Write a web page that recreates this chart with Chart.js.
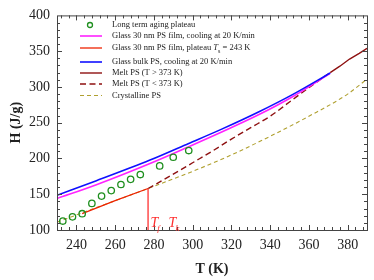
<!DOCTYPE html>
<html>
<head>
<meta charset="utf-8">
<script src="https://cdn.jsdelivr.net/npm/chart.js@4.4.1/dist/chart.umd.min.js"></script>
<style>
  html, body { margin: 0; padding: 0; background: #fff; }
</style>
</head>
<body>
<canvas id="chart" width="374" height="280"></canvas>
<script>
const xTicks = [240, 260, 280, 300, 320, 340, 360, 380];
const yTicks = [100, 150, 200, 250, 300, 350, 400];

const agingT = [233, 238, 243, 248, 253, 258, 263, 268, 273, 283, 290, 298];
const agingH = [112.5, 118.4, 122.8, 137.2, 147.4, 155.1, 163.6, 170.8, 177.5, 189.6, 201.7, 211.1];

const filmT = [230, 250, 278, 298, 315, 334, 352, 371];
const filmH = [144, 163, 193, 216.5, 237, 261, 287, 319];

const plateauT = [243, 260, 277];
const plateauH = [123, 141, 158];

const bulkT = [230, 250, 278, 298, 315, 334, 352, 371];
const bulkH = [148.5, 168.5, 197.7, 221, 241, 265, 290, 319.5];

const meltHighT = [371, 376, 381, 386, 390];
const meltHighH = [320, 329, 339, 347, 354];

const meltLowT = [277, 290, 300, 310, 320, 330, 340, 350, 360, 371];
const meltLowH = [158, 178, 194, 210, 227, 243, 259, 279, 299, 320];

const crystT = [230, 250, 277, 300, 320, 340, 360, 380, 390];
const crystH = [111, 131, 158, 182, 205, 231, 259, 290, 311];

const tfLineT = [277, 277];
const tfLineH = [100, 158];

const pts = (xs, ys) => xs.map((x, i) => ({ x: x, y: ys[i] }));

const serif = "'Liberation Serif', 'DejaVu Serif', serif";

const datasets = [
    {
        label: 'Long term aging plateau',
        data: pts(agingT, agingH),
        showLine: false,
        pointRadius: 3.2,
        pointBorderWidth: 1.3,
        pointBorderColor: '#1f8f1f',
        pointBackgroundColor: 'rgba(255,255,255,0)'
    },
    {
        label: 'Glass 30 nm PS film, plateau',
        data: pts(plateauT, plateauH),
        borderColor: '#ee2200',
        borderWidth: 1.3,
        pointRadius: 0
    },
    {
        label: 'Tf line',
        data: pts(tfLineT, tfLineH),
        borderColor: '#ff3030',
        borderWidth: 1.3,
        pointRadius: 0
    },
    {
        label: 'Glass bulk PS, cooling at 20 K/min',
        data: pts(bulkT, bulkH),
        borderColor: '#1010ff',
        borderWidth: 1.6,
        pointRadius: 0,
        cubicInterpolationMode: 'monotone'
    },
    {
        label: 'Glass 30 nm PS film, cooling at 20 K/min',
        data: pts(filmT, filmH),
        borderColor: '#ff22ff',
        borderWidth: 1.6,
        pointRadius: 0,
        cubicInterpolationMode: 'monotone'
    },
    {
        label: 'Melt PS (T > 373 K)',
        data: pts(meltHighT, meltHighH),
        borderColor: '#8e1010',
        borderWidth: 1.4,
        pointRadius: 0
    },
    {
        label: 'Melt PS (T < 373 K)',
        data: pts(meltLowT, meltLowH),
        borderColor: '#8e1010',
        borderWidth: 1.4,
        borderDash: [6, 3.5],
        pointRadius: 0,
        cubicInterpolationMode: 'monotone'
    },
    {
        label: 'Crystalline PS',
        data: pts(crystT, crystH),
        borderColor: '#b0a030',
        borderWidth: 1.1,
        borderDash: [4, 3],
        pointRadius: 0,
        cubicInterpolationMode: 'monotone'
    }
];

// frame with inward ticks on all four sides
const framePlugin = {
    id: 'frame',
    afterDraw(chart) {
        const ctx = chart.ctx;
        const a = chart.chartArea;
        const xs = chart.scales.x, ys = chart.scales.y;
        ctx.save();
        ctx.strokeStyle = '#444';
        ctx.lineWidth = 1;
        ctx.strokeRect(a.left + 0.5, a.top + 0.5, a.right - a.left, a.bottom - a.top);
        ctx.beginPath();
        for (let v = 232; v <= 390; v += 4) {
            const len = xTicks.includes(v) ? 5 : 3;
            const px = Math.round(xs.getPixelForValue(v)) + 0.5;
            ctx.moveTo(px, a.bottom); ctx.lineTo(px, a.bottom - len);
            ctx.moveTo(px, a.top); ctx.lineTo(px, a.top + len);
        }
        for (let v = 110; v < 400; v += 10) {
            const len = yTicks.includes(v) ? 5 : 3;
            const py = Math.round(ys.getPixelForValue(v)) + 0.5;
            ctx.moveTo(a.left, py); ctx.lineTo(a.left + len, py);
            ctx.moveTo(a.right, py); ctx.lineTo(a.right - len, py);
        }
        ctx.stroke();
        ctx.restore();
    }
};

// legend drawn inside the plot, plus the Tf / Tk labels
const notesPlugin = {
    id: 'notes',
    afterDraw(chart) {
        const ctx = chart.ctx;
        const ds = chart.data.datasets;
        const rows = [
            [ds[0], 25], [ds[4], 36], [ds[1], 48], [ds[3], 62],
            [ds[5], 73], [ds[6], 84], [ds[7], 95.5]
        ];
        ctx.save();
        ctx.font = '8.5px ' + serif;
        ctx.textBaseline = 'middle';
        ctx.fillStyle = '#222';
        rows.forEach(([d, y]) => {
            if (d.showLine === false) {
                ctx.beginPath();
                ctx.arc(90, y, 2.5, 0, Math.PI * 2);
                ctx.strokeStyle = d.pointBorderColor;
                ctx.lineWidth = 1.3;
                ctx.stroke();
            } else {
                ctx.beginPath();
                ctx.setLineDash(d.borderDash || []);
                ctx.strokeStyle = d.borderColor;
                ctx.lineWidth = d.borderWidth;
                ctx.moveTo(80, y); ctx.lineTo(102, y);
                ctx.stroke();
                ctx.setLineDash([]);
            }
            let x = 112;
            if (d === ds[1]) {
                const parts = ['Glass 30 nm PS film, plateau '];
                ctx.fillText(parts[0], x, y);
                x += ctx.measureText(parts[0]).width;
                ctx.font = 'italic 8.5px ' + serif;
                ctx.fillText('T', x, y);
                x += ctx.measureText('T').width;
                ctx.font = '6px ' + serif;
                ctx.fillText('s', x, y + 3);
                x += ctx.measureText('s').width;
                ctx.font = '8.5px ' + serif;
                ctx.fillText(' = 243 K', x, y);
            } else {
                ctx.fillText(d.label, x, y);
            }
        });

        const xs = chart.scales.x;
        ctx.fillStyle = '#ff3030';
        ctx.textBaseline = 'alphabetic';
        [['f', 278.3], ['k', 287.6]].forEach(([sub, t]) => {
            const px = xs.getPixelForValue(t);
            ctx.font = 'italic 14px ' + serif;
            ctx.fillText('T', px, 227);
            const w = ctx.measureText('T').width;
            ctx.font = 'italic 9px ' + serif;
            ctx.fillText(sub, px + w - 1, 231);
        });
        ctx.restore();
    }
};

new Chart(document.getElementById('chart'), {
    type: 'line',
    data: { datasets: datasets },
    options: {
        responsive: false,
        animation: false,
        devicePixelRatio: 1,
        layout: { padding: { left: 6, right: 7, top: 7, bottom: 0 } },
        plugins: {
            legend: { display: false },
            tooltip: { enabled: false }
        },
        scales: {
            x: {
                type: 'linear',
                min: 230,
                max: 390,
                afterBuildTicks: s => { s.ticks = xTicks.map(v => ({ value: v })); },
                afterFit: s => { s.height = 50; },
                grid: { display: false, drawTicks: false },
                border: { display: false },
                ticks: {
                    font: { family: serif, size: 14 },
                    color: '#222',
                    padding: 7,
                    maxRotation: 0
                },
                title: {
                    display: true,
                    text: 'T (K)',
                    font: { family: serif, size: 14, weight: 'bold' },
                    color: '#222',
                    padding: { top: 0, bottom: 2 }
                }
            },
            y: {
                type: 'linear',
                min: 100,
                max: 400,
                afterBuildTicks: s => { s.ticks = yTicks.map(v => ({ value: v })); },
                afterFit: s => { s.width = 51; },
                grid: { display: false, drawTicks: false },
                border: { display: false },
                ticks: {
                    font: { family: serif, size: 14 },
                    color: '#222',
                    padding: 7
                },
                title: {
                    display: true,
                    text: 'H (J/g)',
                    font: { family: serif, size: 14, weight: 'bold' },
                    color: '#222',
                    padding: { top: 2, bottom: 0 }
                }
            }
        }
    },
    plugins: [framePlugin, notesPlugin]
});
</script>
</body>
</html>
